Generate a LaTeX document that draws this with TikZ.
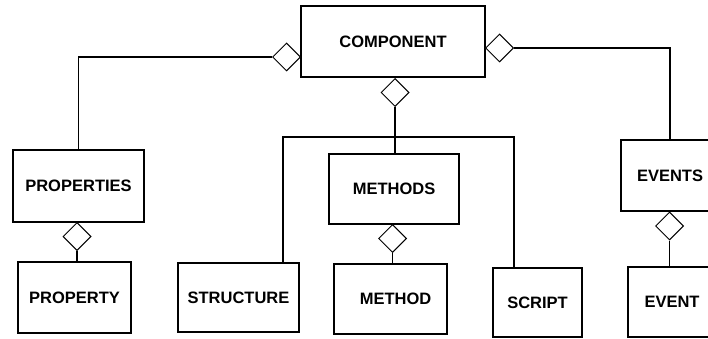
\documentclass[tikz,border=0pt]{standalone}
\usepackage{fontspec}
\setmainfont{Liberation Sans}
\usetikzlibrary{shapes.geometric}
\begin{document}
\begin{tikzpicture}[x=1pt,y=-1pt,
  box/.style={draw, line width=2.8pt, inner sep=0pt, font=\bfseries\fontsize{16.5}{18}\selectfont},
  agg/.style={draw, diamond, aspect=1, minimum width=28pt, minimum height=28pt, inner sep=0pt, fill=white, line width=1pt},
  conn/.style={line width=1.2pt}]
\useasboundingbox (0,0) rectangle (708,339);
\clip (0,0) rectangle (708,339);
\node[box, minimum width=184pt, minimum height=71pt] (comp) at (393,41.5) {COMPONENT};
\node[box, minimum width=131pt, minimum height=72pt] (props) at (78.5,186) {PROPERTIES};
\node[box, minimum width=113pt, minimum height=71pt] (prop) at (74.5,297.5) {PROPERTY};
\node[box, minimum width=121pt, minimum height=69pt] (struct) at (238.5,297.5) {STRUCTURE};
\node[box, minimum width=130pt, minimum height=70pt] (methods) at (394,189) {METHODS};
\node[box, minimum width=113pt, minimum height=70pt] (method) at (390.5,299) {\hspace{10pt}METHOD};
\node[box, minimum width=89pt, minimum height=69pt] (script) at (537.5,302.5) {SCRIPT};
\node[box, minimum width=98pt, minimum height=71pt] (events) at (670,175.5) {EVENTS};
\node[box, minimum width=88pt, minimum height=70pt] (event) at (672,302) {EVENT};
% diamonds
\node[agg, anchor=east] (dl) at (301,57) {};
\node[agg, anchor=west] (dr) at (485,48) {};
\node[agg, anchor=north] (db) at (395,78) {};
\node[agg, anchor=north] (dp) at (77,222) {};
\node[agg, anchor=north] (dm) at (392.5,224) {};
\node[agg, anchor=north] (de) at (669.5,211.5) {};
% connectors
\draw[conn] (dl.west) -| (props.north);
\draw[conn] (dr.east) -| (events.north);
\draw[conn] (db.south) -- (db.south |- methods.north);
\coordinate (bl) at (283,137);
\coordinate (br) at (514,137);
\draw[conn] (bl |- struct.north) -- (bl) -- (br) -- (br |- script.north);
\draw[conn] (dp.south) -- (dp.south |- prop.north);
\draw[conn] (dm.south) -- (dm.south |- method.north);
\draw[conn] (de.south) -- (de.south |- event.north);
\end{tikzpicture}
\end{document}
